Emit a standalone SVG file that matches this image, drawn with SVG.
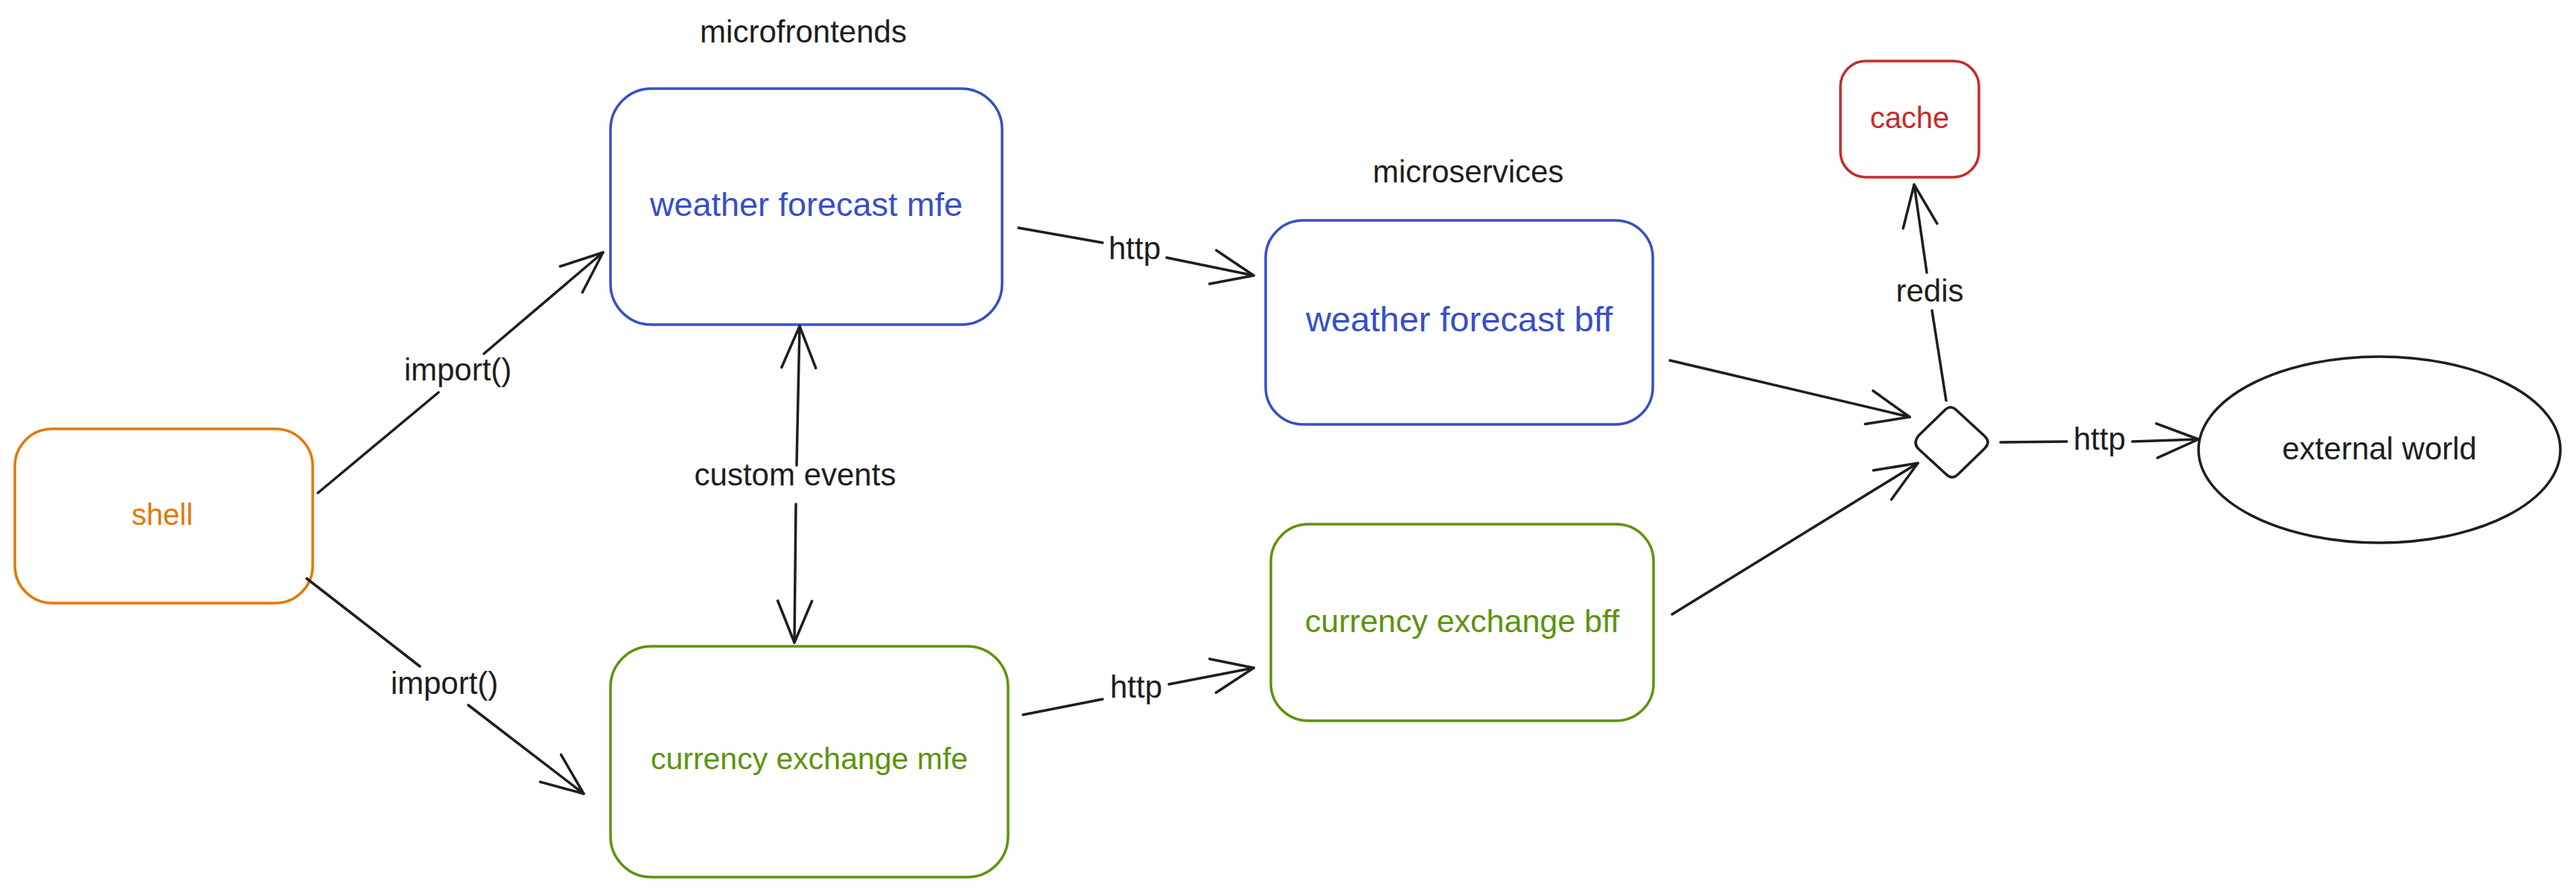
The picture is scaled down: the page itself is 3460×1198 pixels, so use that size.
<svg xmlns="http://www.w3.org/2000/svg" width="3460" height="1198" viewBox="0 0 3460 1198">
<style>
  text { font-family: "Liberation Sans", "DejaVu Sans", sans-serif; text-anchor: middle; }
  .lbl { fill: #1e1e1e; font-size: 42px; }
  .box { fill: none; stroke-width: 3.5; }
  .blue { stroke: #364fc7; }
  .green { stroke: #5c940d; }
  .orange { stroke: #e67700; }
  .red { stroke: #c92a2a; }
  .black { stroke: #1e1e1e; }
  .tblue { fill: #364fc7; }
  .tgreen { fill: #5c940d; }
  .torange { fill: #e67700; }
  .tred { fill: #c92a2a; }
  .edge { fill: none; stroke: #1e1e1e; stroke-width: 3.5; stroke-linecap: round; }
  .edge-end { marker-end: url(#arrow); }
</style>
<defs>
  <marker id="arrow" markerUnits="userSpaceOnUse" markerWidth="80" markerHeight="80" viewBox="-70 -40 80 80" refX="0" refY="0" orient="auto" overflow="visible">
    <path d="M -56 -23 L 0 0 L -56 23" fill="none" stroke="#1e1e1e" stroke-width="3.5" stroke-linecap="round" stroke-linejoin="round"/>
  </marker>
</defs>
<rect width="3460" height="1198" fill="#ffffff"/>

<g id="titles">
  <text class="lbl" x="1079" y="57" font-size="41">microfrontends</text>
  <text class="lbl" x="1972" y="245" font-size="40">microservices</text>
</g>

<g id="shell">
  <rect class="box orange" x="20" y="576" width="400" height="234" rx="50" ry="50"/>
  <text class="torange" x="218" y="705" font-size="40">shell</text>
</g>

<g id="weather-forecast-mfe">
  <rect class="box blue" x="820" y="119" width="526" height="317" rx="55" ry="55"/>
  <text class="tblue" x="1083" y="290" font-size="45">weather forecast mfe</text>
</g>

<g id="currency-exchange-mfe">
  <rect class="box green" x="820" y="868" width="534" height="310" rx="55" ry="55"/>
  <text class="tgreen" x="1087" y="1033" font-size="41">currency exchange mfe</text>
</g>

<g id="weather-forecast-bff">
  <rect class="box blue" x="1700" y="296" width="520" height="274" rx="50" ry="50"/>
  <text class="tblue" x="1960" y="445" font-size="47">weather forecast bff</text>
</g>

<g id="currency-exchange-bff">
  <rect class="box green" x="1707" y="704" width="514" height="264" rx="50" ry="50"/>
  <text class="tgreen" x="1964" y="849" font-size="43">currency exchange bff</text>
</g>

<g id="cache">
  <rect class="box red" x="2472" y="82" width="186" height="156" rx="34" ry="34"/>
  <text class="tred" x="2565" y="172" font-size="40">cache</text>
</g>

<g id="gateway">
  <path class="box black" d="M 2577 585 L 2612 551 Q 2620 543 2628 551 L 2666 586 Q 2674 594 2666 602 L 2630 637 Q 2622 645 2614 637 L 2577 603 Q 2569 595 2577 585 Z"/>
</g>

<g id="external-world">
  <ellipse class="box black" cx="3196" cy="604" rx="243" ry="125"/>
  <text class="lbl" x="3196" y="617" font-size="44">external world</text>
</g>

<g id="connectors">
  <!-- shell -> weather mfe -->
  <path class="edge" d="M 427 662 L 589 527"/>
  <path class="edge edge-end" d="M 650 475 L 810 339"/>
  <text class="lbl" x="615" y="511">import()</text>

  <!-- shell -> currency mfe -->
  <path class="edge" d="M 412 777 L 564 895"/>
  <path class="edge edge-end" d="M 629 947 L 784 1066"/>
  <text class="lbl" x="597" y="932">import()</text>

  <!-- custom events (both ways) -->
  <path class="edge edge-end" d="M 1070 625 L 1074 438"/>
  <path class="edge edge-end" d="M 1069 677 L 1067 863"/>
  <text class="lbl" x="1068" y="652" font-size="43">custom events</text>

  <!-- weather mfe -> weather bff -->
  <path class="edge" d="M 1368 306 L 1481 326"/>
  <path class="edge edge-end" d="M 1567 346 L 1684 370"/>
  <text class="lbl" x="1524" y="348" font-size="47">http</text>

  <!-- currency mfe -> currency bff -->
  <path class="edge" d="M 1374 960 L 1481 939"/>
  <path class="edge edge-end" d="M 1570 919 L 1684 897"/>
  <text class="lbl" x="1526" y="937" font-size="47">http</text>

  <!-- bffs -> gateway -->
  <path class="edge edge-end" d="M 2243 484 L 2565 560"/>
  <path class="edge edge-end" d="M 2246 825 L 2576 622"/>

  <!-- gateway -> cache -->
  <path class="edge" d="M 2614 538 L 2595 417"/>
  <path class="edge edge-end" d="M 2588 366 L 2571 248"/>
  <text class="lbl" x="2592" y="405">redis</text>

  <!-- gateway -> external world -->
  <path class="edge" d="M 2687 594 L 2776 593"/>
  <path class="edge edge-end" d="M 2864 593 L 2953 590"/>
  <text class="lbl" x="2820" y="604" font-size="47">http</text>
</g>
</svg>
